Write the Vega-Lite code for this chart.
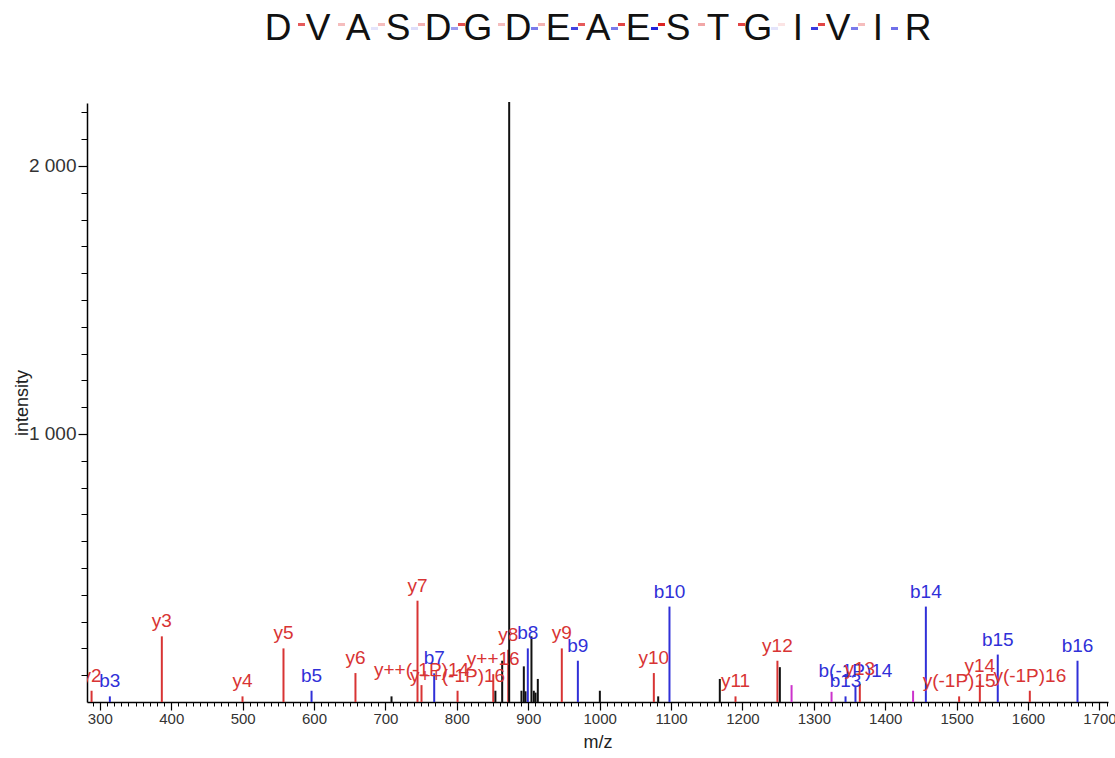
{
  "$schema": "https://vega.github.io/schema/vega-lite/v6.json",
  "padding": {"left": 13, "top": 0, "right": 5, "bottom": 2},
  "autosize": {"type": "pad"},
  "spacing": 40,
  "config": {"view": {"stroke": null}, "font": "Liberation Sans"},
  "datasets": {
    "seq": [
      {"i": 0, "aa": "D"}, {"i": 1, "aa": "V"}, {"i": 2, "aa": "A"}, {"i": 3, "aa": "S"},
      {"i": 4, "aa": "D"}, {"i": 5, "aa": "G"}, {"i": 6, "aa": "D"}, {"i": 7, "aa": "E"},
      {"i": 8, "aa": "A"}, {"i": 9, "aa": "E"}, {"i": 10, "aa": "S"}, {"i": 11, "aa": "T"},
      {"i": 12, "aa": "G"}, {"i": 13, "aa": "I"}, {"i": 14, "aa": "V"}, {"i": 15, "aa": "I"},
      {"i": 16, "aa": "R"}
    ],
    "frag": [
      {"gap": 0.5, "ion": "y", "strength": 0.75},
      {"gap": 1.5, "ion": "y", "strength": 0.3},
      {"gap": 2.5, "ion": "b", "strength": 0.12},
      {"gap": 2.5, "ion": "y", "strength": 0.3},
      {"gap": 3.5, "ion": "b", "strength": 0.15},
      {"gap": 3.5, "ion": "y", "strength": 0.35},
      {"gap": 4.5, "ion": "b", "strength": 0.45},
      {"gap": 4.5, "ion": "y", "strength": 0.8},
      {"gap": 5.5, "ion": "y", "strength": 0.3},
      {"gap": 6.5, "ion": "b", "strength": 0.6},
      {"gap": 6.5, "ion": "y", "strength": 0.35},
      {"gap": 7.5, "ion": "b", "strength": 0.85},
      {"gap": 7.5, "ion": "y", "strength": 0.75},
      {"gap": 8.5, "ion": "b", "strength": 0.6},
      {"gap": 8.5, "ion": "y", "strength": 0.85},
      {"gap": 9.5, "ion": "b", "strength": 1.0},
      {"gap": 9.5, "ion": "y", "strength": 1.0},
      {"gap": 10.5, "ion": "y", "strength": 0.4},
      {"gap": 11.5, "ion": "y", "strength": 0.85},
      {"gap": 12.5, "ion": "b", "strength": 0.12},
      {"gap": 12.5, "ion": "y", "strength": 0.12},
      {"gap": 13.5, "ion": "b", "strength": 0.9},
      {"gap": 13.5, "ion": "y", "strength": 0.85},
      {"gap": 14.5, "ion": "b", "strength": 0.6},
      {"gap": 14.5, "ion": "y", "strength": 0.3},
      {"gap": 15.5, "ion": "b", "strength": 0.65}
    ],
    "peaks": [
      {"mz": 288.4, "intensity": 42, "type": "y", "label": "y2"},
      {"mz": 314.0, "intensity": 21, "type": "b", "label": "b3"},
      {"mz": 386.8, "intensity": 245, "type": "y", "label": "y3"},
      {"mz": 499.8, "intensity": 21, "type": "y", "label": "y4"},
      {"mz": 557.2, "intensity": 200, "type": "y", "label": "y5"},
      {"mz": 596.5, "intensity": 42, "type": "b", "label": "b5"},
      {"mz": 658.0, "intensity": 108, "type": "y", "label": "y6"},
      {"mz": 708.5, "intensity": 21, "type": "other", "label": null},
      {"mz": 744.9, "intensity": 378, "type": "y", "label": "y7"},
      {"mz": 750.5, "intensity": 63, "type": "y", "label": "y++(-1P)14"},
      {"mz": 768.3, "intensity": 107, "type": "b", "label": "b7"},
      {"mz": 801.0, "intensity": 42, "type": "y", "label": "y++(-1P)16"},
      {"mz": 851.0, "intensity": 104, "type": "y", "label": "y++16"},
      {"mz": 854.0, "intensity": 42, "type": "other", "label": null},
      {"mz": 863.5, "intensity": 154, "type": "other", "label": null},
      {"mz": 872.0, "intensity": 195, "type": "y", "label": "y8"},
      {"mz": 873.3, "intensity": 2239, "type": "other", "label": null},
      {"mz": 890.5, "intensity": 42, "type": "other", "label": null},
      {"mz": 893.8, "intensity": 133, "type": "other", "label": null},
      {"mz": 896.2, "intensity": 40, "type": "other", "label": null},
      {"mz": 899.4, "intensity": 200, "type": "b", "label": "b8"},
      {"mz": 904.5, "intensity": 245, "type": "other", "label": null},
      {"mz": 907.8, "intensity": 42, "type": "other", "label": null},
      {"mz": 910.2, "intensity": 35, "type": "other", "label": null},
      {"mz": 913.4, "intensity": 86, "type": "other", "label": null},
      {"mz": 947.0, "intensity": 200, "type": "y", "label": "y9"},
      {"mz": 969.5, "intensity": 154, "type": "b", "label": "b9"},
      {"mz": 1000.3, "intensity": 42, "type": "other", "label": null},
      {"mz": 1075.9, "intensity": 108, "type": "y", "label": "y10"},
      {"mz": 1082.0, "intensity": 21, "type": "other", "label": null},
      {"mz": 1097.8, "intensity": 356, "type": "b", "label": "b10"},
      {"mz": 1168.3, "intensity": 86, "type": "other", "label": null},
      {"mz": 1190.3, "intensity": 21, "type": "y", "label": "y11"},
      {"mz": 1249.0, "intensity": 154, "type": "y", "label": "y12"},
      {"mz": 1252.4, "intensity": 130, "type": "other", "label": null},
      {"mz": 1268.8, "intensity": 63, "type": "mod", "label": null},
      {"mz": 1324.8, "intensity": 38, "type": "mod", "label": null},
      {"mz": 1344.4, "intensity": 21, "type": "b", "label": "b13"},
      {"mz": 1358.3, "intensity": 61, "type": "b", "label": "b(-1P)14"},
      {"mz": 1364.4, "intensity": 67, "type": "y", "label": "y13"},
      {"mz": 1439.0, "intensity": 42, "type": "mod", "label": null},
      {"mz": 1456.9, "intensity": 356, "type": "b", "label": "b14"},
      {"mz": 1503.5, "intensity": 21, "type": "y", "label": "y(-1P)15"},
      {"mz": 1532.5, "intensity": 80, "type": "y", "label": "y14"},
      {"mz": 1557.6, "intensity": 177, "type": "b", "label": "b15"},
      {"mz": 1602.5, "intensity": 42, "type": "y", "label": "y(-1P)16"},
      {"mz": 1669.3, "intensity": 154, "type": "b", "label": "b16"}
    ]
  },
  "vconcat": [
    {
      "width": 1021,
      "height": 60,
      "layer": [
        {
          "data": {"name": "seq"},
          "mark": {"type": "text", "fontSize": 37, "color": "#111111", "align": "center", "baseline": "alphabetic"},
          "encoding": {
            "x": {"field": "i", "type": "quantitative", "scale": {"domain": [-4.775, 20.75], "nice": false, "zero": false}, "axis": null},
            "y": {"datum": 0.333, "type": "quantitative", "scale": {"domain": [0, 1], "nice": false}, "axis": null},
            "text": {"field": "aa"}
          }
        },
        {
          "data": {"name": "frag"},
          "transform": [{"filter": "datum.ion === 'b'"}],
          "mark": {"type": "tick", "orient": "horizontal", "size": 7, "thickness": 3, "color": "#2323dd", "xOffset": -3.5},
          "encoding": {
            "x": {"field": "gap", "type": "quantitative"},
            "y": {"datum": 0.525, "type": "quantitative"},
            "opacity": {"field": "strength", "type": "quantitative", "scale": null}
          }
        },
        {
          "data": {"name": "frag"},
          "transform": [{"filter": "datum.ion === 'y'"}],
          "mark": {"type": "tick", "orient": "horizontal", "size": 7, "thickness": 3, "color": "#dd2323", "xOffset": 3.5},
          "encoding": {
            "x": {"field": "gap", "type": "quantitative"},
            "y": {"datum": 0.592, "type": "quantitative"},
            "opacity": {"field": "strength", "type": "quantitative", "scale": null}
          }
        }
      ]
    },
    {
      "width": 1021,
      "height": 599,
      "data": {"name": "peaks"},
      "layer": [
        {
          "mark": {"type": "rule", "strokeWidth": 2},
          "encoding": {
            "x": {
              "field": "mz", "type": "quantitative",
              "scale": {"domain": [282, 1712], "nice": false, "zero": false},
              "axis": {
                "orient": "bottom",
                "values": [300, 400, 500, 600, 700, 800, 900, 1000, 1100, 1200, 1300, 1400, 1500, 1600, 1700],
                "format": "d", "grid": false, "tickSize": 8, "tickWidth": 1.2, "tickColor": "#000000",
                "domainColor": "#000000", "domainWidth": 1.5, "labelFontSize": 15, "labelColor": "#333333",
                "labelPadding": 1, "title": "m/z", "titleFontSize": 18, "titleFontWeight": "normal",
                "titleColor": "#222222", "titlePadding": 7
              }
            },
            "y": {
              "field": "intensity", "type": "quantitative",
              "scale": {"domain": [0, 2235], "nice": false},
              "axis": {
                "orient": "left",
                "values": [1000, 2000],
                "labelExpr": "replace(format(datum.value, ','), ',', ' ')",
                "grid": false, "tickSize": 9, "tickWidth": 1.2, "tickColor": "#000000",
                "domainColor": "#000000", "domainWidth": 1.5, "labelFontSize": 19, "labelColor": "#333333",
                "labelPadding": 2, "title": "intensity", "titleFontSize": 18, "titleFontWeight": "normal",
                "titleColor": "#222222", "titlePadding": -3
              }
            },
            "y2": {"datum": 0},
            "color": {
              "field": "type", "type": "nominal",
              "scale": {"domain": ["y", "b", "other", "mod"], "range": ["#d83434", "#3030d8", "#111111", "#cc33cc"]},
              "legend": null
            }
          }
        },
        {
          "transform": [{"filter": "datum.label != null"}],
          "mark": {"type": "text", "fontSize": 19, "align": "center", "baseline": "alphabetic", "dy": -9, "clip": true},
          "encoding": {
            "x": {"field": "mz", "type": "quantitative", "axis": null},
            "y": {"field": "intensity", "type": "quantitative", "axis": null},
            "text": {"field": "label"},
            "color": {"field": "type", "type": "nominal", "legend": null}
          }
        },
        {
          "mark": {"type": "rule", "opacity": 0},
          "encoding": {
            "x": {
              "field": "mz", "type": "quantitative",
              "axis": {
                "orient": "bottom",
                "values": [290, 300, 310, 320, 330, 340, 350, 360, 370, 380, 390, 400, 410, 420, 430, 440, 450, 460, 470, 480, 490, 500, 510, 520, 530, 540, 550, 560, 570, 580, 590, 600, 610, 620, 630, 640, 650, 660, 670, 680, 690, 700, 710, 720, 730, 740, 750, 760, 770, 780, 790, 800, 810, 820, 830, 840, 850, 860, 870, 880, 890, 900, 910, 920, 930, 940, 950, 960, 970, 980, 990, 1000, 1010, 1020, 1030, 1040, 1050, 1060, 1070, 1080, 1090, 1100, 1110, 1120, 1130, 1140, 1150, 1160, 1170, 1180, 1190, 1200, 1210, 1220, 1230, 1240, 1250, 1260, 1270, 1280, 1290, 1300, 1310, 1320, 1330, 1340, 1350, 1360, 1370, 1380, 1390, 1400, 1410, 1420, 1430, 1440, 1450, 1460, 1470, 1480, 1490, 1500, 1510, 1520, 1530, 1540, 1550, 1560, 1570, 1580, 1590, 1600, 1610, 1620, 1630, 1640, 1650, 1660, 1670, 1680, 1690, 1700, 1710],
                "labels": false, "domain": false, "grid": false, "tickSize": 4, "tickWidth": 1, "tickColor": "#000000", "title": null
              }
            },
            "y": {
              "field": "intensity", "type": "quantitative",
              "axis": {
                "orient": "left",
                "values": [100, 200, 300, 400, 500, 600, 700, 800, 900, 1000, 1100, 1200, 1300, 1400, 1500, 1600, 1700, 1800, 1900, 2000, 2100, 2200],
                "labels": false, "domain": false, "grid": false, "tickSize": 6, "tickWidth": 1, "tickColor": "#000000", "title": null
              }
            }
          }
        }
      ],
      "resolve": {"axis": {"x": "independent", "y": "independent"}}
    }
  ]
}
